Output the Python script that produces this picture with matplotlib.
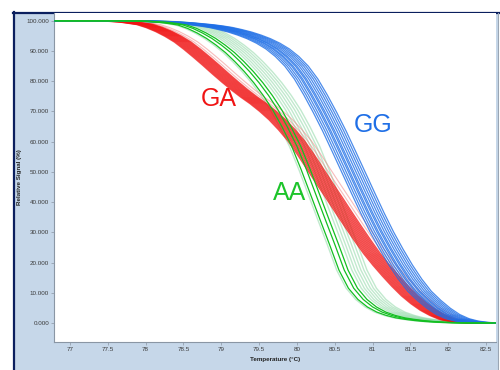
import numpy as np
import matplotlib
matplotlib.use("Agg")
import matplotlib.pyplot as plt
from matplotlib.patches import Rectangle
from matplotlib.lines import Line2D

plt.rcParams['font.family'] = ['Liberation Sans', 'DejaVu Sans']

# ---------------- data ----------------
temps = [76.8, 77.0, 77.5, 77.75,
         78.0, 78.125, 78.25, 78.375, 78.5, 78.625, 78.75, 78.875,
         79.0, 79.125, 79.25, 79.375, 79.5, 79.625, 79.75, 79.875,
         80.0, 80.125, 80.25, 80.375, 80.5, 80.625, 80.75, 80.875,
         81.0, 81.125, 81.25, 81.375, 81.5, 81.625, 81.75, 81.875,
         82.0, 82.125, 82.25, 82.375, 82.5, 82.65]

# relative signal (%) of the middle curve of each genotype
gg_signal = [100, 100, 100, 100,
             99.9, 99.8, 99.7, 99.5, 99.3, 99.0, 98.7, 98.3,
             97.8, 97.1, 96.3, 95.3, 94.1, 92.6, 90.7, 88.2,
             85.0, 80.8, 75.5, 69.7, 63.5, 56.8, 50.0, 43.2,
             36.5, 30.2, 24.5, 19.2, 14.5, 10.5, 7.5, 4.9,
             2.8, 1.4, 0.6, 0.2, 0.0, 0.0]
ga_signal = [100, 100, 100, 99.7,
             98.8, 97.8, 96.5, 94.9, 93.0, 90.6, 88.0, 85.3,
             82.5, 79.8, 77.2, 74.8, 72.6, 70.1, 67.3, 64.0,
             60.3, 55.8, 51.0, 46.2, 41.5, 36.7, 32.0, 27.4,
             23.0, 19.1, 15.5, 12.1, 9.0, 6.4, 4.2, 2.5,
             1.2, 0.5, 0.2, 0.05, 0.0, 0.0]
aa_signal = [100, 100, 100, 100,
             99.9, 99.7, 99.5, 99.1, 98.6, 97.5, 96.0, 94.2,
             92.0, 89.5, 86.5, 83.2, 79.5, 75.3, 70.5, 64.8,
             58.5, 50.8, 42.5, 34.2, 26.0, 17.5, 11.5, 7.8,
             5.3, 3.6, 2.5, 1.7, 1.2, 0.8, 0.5, 0.3,
             0.15, 0.05, 0.0, 0.0, 0.0, 0.0]

# temperature offset of every well (replicate) from the middle curve
gg_shift = [-0.16, -0.13, -0.10, -0.07, -0.05, -0.02, 0.0, 0.03, 0.06, 0.09, 0.12, 0.15]
ga_shift = [-0.12, -0.10, -0.08, -0.06, -0.04, -0.02, 0.0, 0.02, 0.04, 0.06, 0.08, 0.10]
ga_pale_shift = [0.14, 0.19]
aa_shift = [-0.07, 0.0, 0.05]
aa_pale_shift = [-0.10, 0.10, 0.14, 0.18, 0.22, 0.26, 0.30]

xticks = [77, 77.5, 78, 78.5, 79, 79.5, 80, 80.5, 81, 81.5, 82, 82.5]
xtick_labels = ["77", "77.5", "78", "78.5", "79", "79.5", "80", "80.5", "81", "81.5", "82", "82.5"]
yticks = [0, 10, 20, 30, 40, 50, 60, 70, 80, 90, 100]
ytick_labels = ["0.000", "10.000", "20.000", "30.000", "40.000", "50.000",
                "60.000", "70.000", "80.000", "90.000", "100.000"]

# ---------------- figure ----------------
W, H = 500, 370
fig = plt.figure(figsize=(W / 100, H / 100), dpi=100)

# light blue panel with navy border
fig.patches.append(Rectangle((13 / W, 0), (498 - 13) / W, (H - 12) / H,
                             transform=fig.transFigure, facecolor='#c6d7e9',
                             edgecolor='none', zorder=-10))
fig.lines.append(Line2D([13.5 / W, 13.5 / W], [0, 1 - 12 / H], transform=fig.transFigure,
                        color='#0b1f5e', lw=1.6, zorder=-5))
fig.lines.append(Line2D([13 / W, 1], [1 - 12.5 / H, 1 - 12.5 / H], transform=fig.transFigure,
                        color='#0b1f5e', lw=1.6, zorder=-5))
fig.lines.append(Line2D([497.5 / W, 497.5 / W], [0, 1 - 13 / H], transform=fig.transFigure,
                        color='#9aa6b4', lw=0.8, zorder=-5))

ax = fig.add_axes([54 / W, 1 - 342 / H, (496 - 54) / W, (342 - 13) / H])
ax.set_facecolor('white')

t = np.array(temps)


def draw_group(signal, shifts, color, lw, alpha, z):
    for s in shifts:
        ax.plot(t + s, signal, color=color, lw=lw, alpha=alpha, zorder=z,
                solid_capstyle='butt', solid_joinstyle='round')


draw_group(aa_signal, aa_pale_shift, '#8fd8a6', 1.0, 0.55, 2)
draw_group(ga_signal, ga_pale_shift, '#f07a7a', 0.8, 0.5, 3)
draw_group(ga_signal, ga_shift, '#f01414', 1.0, 0.75, 3)
draw_group(gg_signal, gg_shift, '#1f6fe6', 0.9, 0.8, 4)
draw_group(aa_signal, aa_shift, '#14bf22', 0.9, 1.0, 5)

ax.text(78.97, 74.2, "GA", color='#f01414', fontsize=18, ha='center', va='center', zorder=6)
ax.text(81.01, 65.6, "GG", color='#1f6fe6', fontsize=18, ha='center', va='center', zorder=6)
ax.text(79.90, 43.0, "AA", color='#1cc42a', fontsize=18, ha='center', va='center', zorder=6)

ax.set_xlim(76.79, 82.63)
ax.set_ylim(-6.3, 102.6)
ax.set_xticks(xticks)
ax.set_xticklabels(xtick_labels)
ax.set_yticks(yticks)
ax.set_yticklabels(ytick_labels)
ax.tick_params(axis='both', labelsize=4.5, length=2, width=0.5, color='#8a96a4',
               labelcolor='#3a3a3a', pad=1.5)

for side in ('top', 'right'):
    ax.spines[side].set_visible(False)
for side in ('left', 'bottom'):
    ax.spines[side].set_color('#8a96a4')
    ax.spines[side].set_linewidth(0.8)

ax.set_xlabel("Temperature (°C)", fontsize=4.5, fontweight='bold', color='#222222')
ax.set_ylabel("Relative Signal (%)", fontsize=4.5, fontweight='bold', color='#222222')
ax.xaxis.set_label_coords(0.5, -0.046)
ax.yaxis.set_label_coords(-0.072, 0.5)

fig.savefig("out.png", dpi=100)
